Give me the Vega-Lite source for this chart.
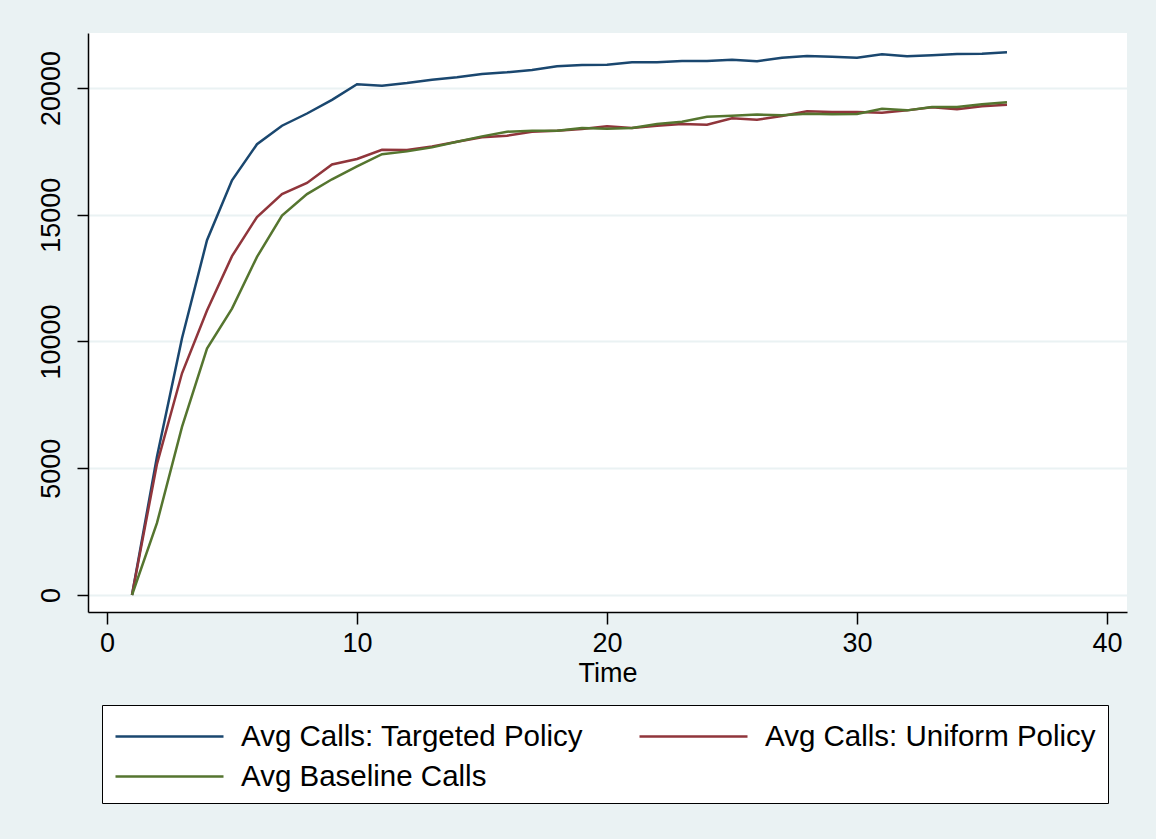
{
  "$schema": "https://vega.github.io/schema/vega-lite/v6.json",
  "width": 1039,
  "height": 579,
  "autosize": {"type": "none"},
  "padding": {"left": 88, "top": 33, "right": 29, "bottom": 227},
  "background": "#EAF2F3",
  "config": {
    "view": {"fill": "white", "stroke": null},
    "font": "Liberation Sans"
  },
  "datasets": {
    "calls": [
      {"t":1,"s":"Avg Calls: Targeted Policy","v":0},{"t":2,"s":"Avg Calls: Targeted Policy","v":5466},{"t":3,"s":"Avg Calls: Targeted Policy","v":10131},{"t":4,"s":"Avg Calls: Targeted Policy","v":13994},{"t":5,"s":"Avg Calls: Targeted Policy","v":16356},{"t":6,"s":"Avg Calls: Targeted Policy","v":17784},{"t":7,"s":"Avg Calls: Targeted Policy","v":18513},{"t":8,"s":"Avg Calls: Targeted Policy","v":18994},{"t":9,"s":"Avg Calls: Targeted Policy","v":19534},{"t":10,"s":"Avg Calls: Targeted Policy","v":20146},{"t":11,"s":"Avg Calls: Targeted Policy","v":20092},{"t":12,"s":"Avg Calls: Targeted Policy","v":20197},{"t":13,"s":"Avg Calls: Targeted Policy","v":20329},{"t":14,"s":"Avg Calls: Targeted Policy","v":20421},{"t":15,"s":"Avg Calls: Targeted Policy","v":20553},{"t":16,"s":"Avg Calls: Targeted Policy","v":20618},{"t":17,"s":"Avg Calls: Targeted Policy","v":20711},{"t":18,"s":"Avg Calls: Targeted Policy","v":20855},{"t":19,"s":"Avg Calls: Targeted Policy","v":20908},{"t":20,"s":"Avg Calls: Targeted Policy","v":20921},{"t":21,"s":"Avg Calls: Targeted Policy","v":21013},{"t":22,"s":"Avg Calls: Targeted Policy","v":21013},{"t":23,"s":"Avg Calls: Targeted Policy","v":21066},{"t":24,"s":"Avg Calls: Targeted Policy","v":21066},{"t":25,"s":"Avg Calls: Targeted Policy","v":21118},{"t":26,"s":"Avg Calls: Targeted Policy","v":21060},{"t":27,"s":"Avg Calls: Targeted Policy","v":21197},{"t":28,"s":"Avg Calls: Targeted Policy","v":21263},{"t":29,"s":"Avg Calls: Targeted Policy","v":21237},{"t":30,"s":"Avg Calls: Targeted Policy","v":21197},{"t":31,"s":"Avg Calls: Targeted Policy","v":21329},{"t":32,"s":"Avg Calls: Targeted Policy","v":21250},{"t":33,"s":"Avg Calls: Targeted Policy","v":21289},{"t":34,"s":"Avg Calls: Targeted Policy","v":21342},{"t":35,"s":"Avg Calls: Targeted Policy","v":21355},{"t":36,"s":"Avg Calls: Targeted Policy","v":21408},
      {"t":1,"s":"Avg Calls: Uniform Policy","v":0},{"t":2,"s":"Avg Calls: Uniform Policy","v":5175},{"t":3,"s":"Avg Calls: Uniform Policy","v":8746},{"t":4,"s":"Avg Calls: Uniform Policy","v":11224},{"t":5,"s":"Avg Calls: Uniform Policy","v":13367},{"t":6,"s":"Avg Calls: Uniform Policy","v":14913},{"t":7,"s":"Avg Calls: Uniform Policy","v":15816},{"t":8,"s":"Avg Calls: Uniform Policy","v":16253},{"t":9,"s":"Avg Calls: Uniform Policy","v":16983},{"t":10,"s":"Avg Calls: Uniform Policy","v":17201},{"t":11,"s":"Avg Calls: Uniform Policy","v":17566},{"t":12,"s":"Avg Calls: Uniform Policy","v":17553},{"t":13,"s":"Avg Calls: Uniform Policy","v":17697},{"t":14,"s":"Avg Calls: Uniform Policy","v":17882},{"t":15,"s":"Avg Calls: Uniform Policy","v":18053},{"t":16,"s":"Avg Calls: Uniform Policy","v":18118},{"t":17,"s":"Avg Calls: Uniform Policy","v":18276},{"t":18,"s":"Avg Calls: Uniform Policy","v":18316},{"t":19,"s":"Avg Calls: Uniform Policy","v":18382},{"t":20,"s":"Avg Calls: Uniform Policy","v":18487},{"t":21,"s":"Avg Calls: Uniform Policy","v":18421},{"t":22,"s":"Avg Calls: Uniform Policy","v":18513},{"t":23,"s":"Avg Calls: Uniform Policy","v":18579},{"t":24,"s":"Avg Calls: Uniform Policy","v":18553},{"t":25,"s":"Avg Calls: Uniform Policy","v":18803},{"t":26,"s":"Avg Calls: Uniform Policy","v":18750},{"t":27,"s":"Avg Calls: Uniform Policy","v":18895},{"t":28,"s":"Avg Calls: Uniform Policy","v":19079},{"t":29,"s":"Avg Calls: Uniform Policy","v":19053},{"t":30,"s":"Avg Calls: Uniform Policy","v":19053},{"t":31,"s":"Avg Calls: Uniform Policy","v":19026},{"t":32,"s":"Avg Calls: Uniform Policy","v":19118},{"t":33,"s":"Avg Calls: Uniform Policy","v":19237},{"t":34,"s":"Avg Calls: Uniform Policy","v":19158},{"t":35,"s":"Avg Calls: Uniform Policy","v":19276},{"t":36,"s":"Avg Calls: Uniform Policy","v":19342},
      {"t":1,"s":"Avg Baseline Calls","v":0},{"t":2,"s":"Avg Baseline Calls","v":2843},{"t":3,"s":"Avg Baseline Calls","v":6633},{"t":4,"s":"Avg Baseline Calls","v":9723},{"t":5,"s":"Avg Baseline Calls","v":11297},{"t":6,"s":"Avg Baseline Calls","v":13338},{"t":7,"s":"Avg Baseline Calls","v":14971},{"t":8,"s":"Avg Baseline Calls","v":15816},{"t":9,"s":"Avg Baseline Calls","v":16399},{"t":10,"s":"Avg Baseline Calls","v":16910},{"t":11,"s":"Avg Baseline Calls","v":17391},{"t":12,"s":"Avg Baseline Calls","v":17500},{"t":13,"s":"Avg Baseline Calls","v":17658},{"t":14,"s":"Avg Baseline Calls","v":17882},{"t":15,"s":"Avg Baseline Calls","v":18092},{"t":16,"s":"Avg Baseline Calls","v":18276},{"t":17,"s":"Avg Baseline Calls","v":18316},{"t":18,"s":"Avg Baseline Calls","v":18316},{"t":19,"s":"Avg Baseline Calls","v":18421},{"t":20,"s":"Avg Baseline Calls","v":18395},{"t":21,"s":"Avg Baseline Calls","v":18421},{"t":22,"s":"Avg Baseline Calls","v":18579},{"t":23,"s":"Avg Baseline Calls","v":18671},{"t":24,"s":"Avg Baseline Calls","v":18868},{"t":25,"s":"Avg Baseline Calls","v":18908},{"t":26,"s":"Avg Baseline Calls","v":18955},{"t":27,"s":"Avg Baseline Calls","v":18921},{"t":28,"s":"Avg Baseline Calls","v":18987},{"t":29,"s":"Avg Baseline Calls","v":18960},{"t":30,"s":"Avg Baseline Calls","v":18974},{"t":31,"s":"Avg Baseline Calls","v":19184},{"t":32,"s":"Avg Baseline Calls","v":19118},{"t":33,"s":"Avg Baseline Calls","v":19250},{"t":34,"s":"Avg Baseline Calls","v":19250},{"t":35,"s":"Avg Baseline Calls","v":19355},{"t":36,"s":"Avg Baseline Calls","v":19434}
    ]
  },
  "data": {"name": "calls"},
  "mark": {"type": "line", "strokeWidth": 2.5},
  "encoding": {
    "x": {
      "field": "t", "type": "quantitative",
      "scale": {"domain": [-0.76, 40.8], "nice": false, "zero": false},
      "axis": {
        "title": "Time", "values": [0, 10, 20, 30, 40], "grid": false,
        "domainColor": "black", "domainWidth": 1.5,
        "tickColor": "black", "tickWidth": 1.5, "tickSize": 12,
        "labelFont": "Liberation Sans", "labelFontSize": 27, "labelColor": "black", "labelPadding": 6,
        "titleFont": "Liberation Sans", "titleFontSize": 27, "titleFontWeight": "normal", "titleColor": "black", "titlePadding": 4
      }
    },
    "y": {
      "field": "v", "type": "quantitative",
      "scale": {"domain": [-671, 22170], "nice": false, "zero": false},
      "axis": {
        "title": null, "values": [0, 5000, 10000, 15000, 20000], "format": "d",
        "grid": true, "gridColor": "#EAF2F3", "gridWidth": 2,
        "domainColor": "black", "domainWidth": 1.5,
        "tickColor": "black", "tickWidth": 1.5, "tickSize": 11,
        "labelAngle": -90, "labelAlign": "center", "labelBaseline": "bottom",
        "labelFont": "Liberation Sans", "labelFontSize": 27, "labelColor": "black", "labelPadding": 12
      }
    },
    "color": {
      "field": "s", "type": "nominal",
      "scale": {
        "domain": ["Avg Calls: Targeted Policy", "Avg Calls: Uniform Policy", "Avg Baseline Calls"],
        "range": ["#1a476f", "#90353b", "#55752f"]
      },
      "legend": {
        "title": null, "orient": "none", "legendX": 14, "legendY": 672, "direction": "horizontal",
        "columns": 2, "columnPadding": 50, "rowPadding": 6, "padding": 12,
        "symbolType": "M-1,0H5", "symbolSize": 1296, "symbolStrokeWidth": 2.5,
        "labelFont": "Liberation Sans", "labelFontSize": 29.5, "labelColor": "black", "labelOffset": 88, "labelLimit": 600,
        "strokeColor": "black", "fillColor": "white"
      }
    }
  }
}
